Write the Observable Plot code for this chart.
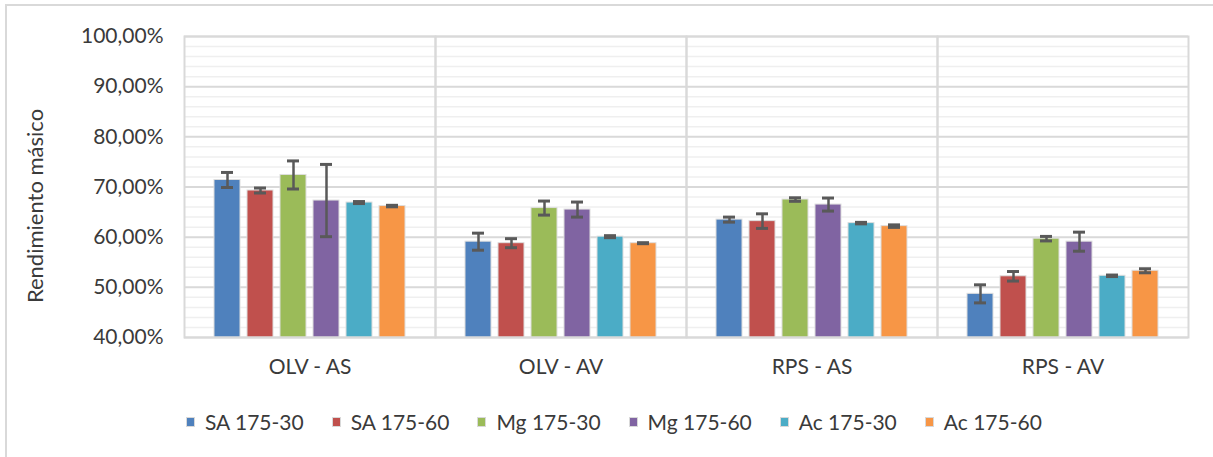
<!DOCTYPE html>
<html>
<head>
<meta charset="utf-8">
<script src="https://cdn.jsdelivr.net/npm/d3@7"></script>
<script src="https://cdn.jsdelivr.net/npm/@observablehq/plot@0.6"></script>
<style>
  html, body { margin: 0; padding: 0; background: #fff; }
  #wrap { position: relative; width: 1213px; height: 457px; overflow: hidden; font-family: Lato, sans-serif; color: #3a3a3a; }
  #border { position: absolute; left: 5px; top: 4px; width: 1300px; height: 600px; border-left: 2px solid #d9d9d9; border-top: 2px solid #d9d9d9; pointer-events: none; z-index: 2; }
  #legend { position: absolute; top: 411px; left: 186px; display: flex; align-items: center; font-size: 21px; line-height: 22px; white-space: nowrap; }
  .item { display: flex; align-items: center; margin-right: 28px; }
  .sw { width: 9px; height: 10px; margin-right: 10px; box-sizing: border-box; border: 1px solid #d9d9d9; }
</style>
</head>
<body>
<div id="wrap"><div id="chart"></div><div id="legend"></div><div id="border"></div></div>
<script>
const categories = ["OLV - AS", "OLV - AV", "RPS - AS", "RPS - AV"];
const series = ["SA 175-30", "SA 175-60", "Mg 175-30", "Mg 175-60", "Ac 175-30", "Ac 175-60"];
const colors = ["#4F81BD", "#C0504D", "#9BBB59", "#8064A2", "#4BACC6", "#F79646"];

// mean yields (%) per category, in series order
const olvAS = [71.4, 69.3, 72.4, 67.3, 66.9, 66.2];
const olvAV = [59.1, 58.8, 65.8, 65.5, 60.1, 58.8];
const rpsAS = [63.5, 63.2, 67.5, 66.5, 62.8, 62.2];
const rpsAV = [48.7, 52.2, 59.7, 59.1, 52.3, 53.3];
// error bar half-widths (%)
const olvASerr = [1.5, 0.5, 2.8, 7.2, 0.2, 0.15];
const olvAVerr = [1.7, 0.9, 1.4, 1.5, 0.2, 0.1];
const rpsASerr = [0.5, 1.45, 0.35, 1.3, 0.15, 0.25];
const rpsAVerr = [1.8, 0.95, 0.45, 1.9, 0.15, 0.4];

const yTicks = [0.4, 0.5, 0.6, 0.7, 0.8, 0.9, 1.0];
const yMinor = [0.42, 0.44, 0.46, 0.48, 0.52, 0.54, 0.56, 0.58, 0.62, 0.64, 0.66, 0.68, 0.72, 0.74, 0.76, 0.78, 0.82, 0.84, 0.86, 0.88, 0.92, 0.94, 0.96, 0.98];

const values = [olvAS, olvAV, rpsAS, rpsAV];
const errors = [olvASerr, olvAVerr, rpsASerr, rpsAVerr];
const data = categories.flatMap((c, i) => series.map((s, j) => ({
  category: c, series: s, value: values[i][j] / 100, err: errors[i][j] / 100
})));

const fmt = d3.formatLocale({decimal: ",", thousands: ".", grouping: [3], currency: ["", "€"]}).format(".2%");

const chart = Plot.plot({
  width: 1213, height: 395,
  marginLeft: 183, marginRight: 25, marginTop: 36, marginBottom: 58,
  style: {fontFamily: "Lato, sans-serif", fontSize: "21px", color: "#3a3a3a", background: "transparent"},
  fx: {domain: categories, padding: 0, label: null, axis: "bottom", tickSize: 0, tickPadding: 22},
  x: {domain: series, paddingInner: 0.22, paddingOuter: 0.87, axis: null},
  y: {domain: [0.4, 1.0], axis: null},
  color: {domain: series, range: colors},
  marks: [
    Plot.ruleY(yMinor, {stroke: "#efefef", strokeWidth: 1.5}),
    Plot.ruleY(yTicks, {stroke: "#d9d9d9", strokeWidth: 2}),
    Plot.barY(data, {fx: "category", x: "series", y1: 0.4, y2: "value", fill: "series", stroke: "#dedede", strokeWidth: 1}),
    Plot.frame({stroke: "#d9d9d9", strokeWidth: 2}),
    Plot.ruleX(data, {fx: "category", x: "series", y1: d => d.value - d.err, y2: d => d.value + d.err, stroke: "#595959", strokeWidth: 2.5}),
    Plot.tickY(data, {fx: "category", x: "series", y: d => d.value - d.err, stroke: "#595959", strokeWidth: 3, inset: 7}),
    Plot.tickY(data, {fx: "category", x: "series", y: d => d.value + d.err, stroke: "#595959", strokeWidth: 3, inset: 7}),
    Plot.axisY({ticks: yTicks, tickFormat: fmt, tickSize: 0, tickPadding: 21, label: null})
  ]
});

d3.select(chart).append("text")
  .attr("transform", "translate(34,206) rotate(-90)")
  .attr("text-anchor", "middle")
  .attr("dominant-baseline", "central")
  .attr("fill", "#3a3a3a")
  .style("font-size", "22px")
  .text("Rendimiento másico");

document.getElementById("chart").appendChild(chart);

const legend = d3.select("#legend");
series.forEach((s, i) => {
  const it = legend.append("div").attr("class", "item");
  it.append("div").attr("class", "sw").style("background", colors[i]);
  it.append("span").text(s);
});
</script>
</body>
</html>
